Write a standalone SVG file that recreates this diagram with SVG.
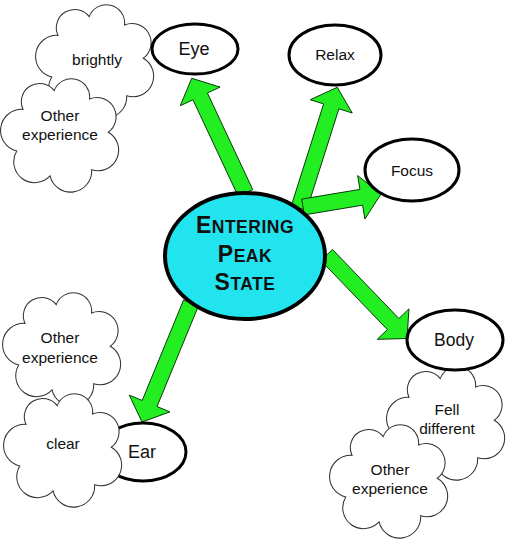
<svg xmlns="http://www.w3.org/2000/svg" xmlns:xlink="http://www.w3.org/1999/xlink" width="506" height="542" viewBox="0 0 506 542">
<style>
.cloud{fill:#fff;stroke:#333;stroke-width:1}
.node{fill:#fff;stroke:#000;stroke-width:3}
.arrow{fill:#22ee22;stroke:#0a3a0a;stroke-width:1;stroke-linejoin:miter}
.t{font-family:"Liberation Sans",Arial,sans-serif;fill:#111;text-anchor:middle}
.ct{font-size:15.5px}
.big{font-weight:bold;letter-spacing:0.5px}
</style>
<defs>
<path id="cloud" d="M25,34 A17.6,17.6 0 0 1 55,16 A17.6,17.6 0 0 1 89,24 A18.5,18.5 0 0 1 107,56 A19.8,19.8 0 0 1 91,92 A20.3,20.3 0 0 1 51,98 A20.1,20.1 0 0 1 19,74 A20.3,20.3 0 0 1 25,34 Z"/>
</defs>
<rect width="506" height="542" fill="#fff"/>
<g id="connectors">
<polygon class="arrow" points="252.74,189.6 207.43,93.01 220.11,87.07 191.7,78.3 180.27,105.75 192.95,99.81 238.26,196.4"/>
<polygon class="arrow" points="306.63,210.42 338.88,108.79 352.22,113.03 337.3,87.3 310.28,99.71 323.62,103.95 291.37,205.58"/>
<polygon class="arrow" points="304.32,214.89 362.59,205.18 364.89,218.99 381,194 357.65,175.59 359.95,189.4 301.68,199.11"/>
<polygon class="arrow" points="320.93,260.54 387.37,329.62 377.28,339.33 407,338.5 409,308.83 398.91,318.54 332.47,249.46"/>
<polygon class="arrow" points="183.6,299.95 142.21,400.46 129.27,395.13 142,422 169.95,411.89 157.01,406.56 198.4,306.05"/>
</g>
<g id="center">
<ellipse cx="245" cy="256" rx="80" ry="63" fill="#22e4ef" stroke="#000" stroke-width="4"/>
<text class="t big" x="245" y="233"><tspan font-size="23">E</tspan><tspan font-size="17.5">NTERING</tspan></text>
<text class="t big" x="245" y="262"><tspan font-size="23">P</tspan><tspan font-size="17.5">EAK</tspan></text>
<text class="t big" x="245" y="290"><tspan font-size="23">S</tspan><tspan font-size="17.5">TATE</tspan></text>
</g>
<g id="cloud-brightly">
<use xlink:href="#cloud" class="cloud" transform="translate(32,0) scale(1.04)"/>
<text class="t ct" x="97" y="65">brightly</text>
</g>
<g id="cloud-other1">
<use xlink:href="#cloud" class="cloud" transform="translate(-3,74) scale(1.04)"/>
<text class="t ct" x="60" y="121">Other</text>
<text class="t ct" x="60" y="140">experience</text>
</g>
<g id="eye">
<ellipse class="node" cx="195" cy="49" rx="43" ry="25"/>
<text class="t" x="194" y="55" font-size="18">Eye</text>
</g>
<g id="relax">
<ellipse class="node" cx="335" cy="55" rx="46" ry="30"/>
<text class="t" x="335" y="60" font-size="15.5">Relax</text>
</g>
<g id="focus">
<ellipse class="node" cx="412" cy="170" rx="47" ry="31"/>
<text class="t" x="412" y="176" font-size="15.5">Focus</text>
</g>
<g id="cloud-fell">
<use xlink:href="#cloud" class="cloud" transform="translate(383,362) scale(1.04)"/>
<text class="t ct" x="447" y="415">Fell</text>
<text class="t ct" x="447" y="434">different</text>
</g>
<g id="body">
<ellipse class="node" cx="455" cy="340" rx="48" ry="30"/>
<text class="t" x="454" y="346" font-size="17.5">Body</text>
</g>
<g id="cloud-other3">
<use xlink:href="#cloud" class="cloud" transform="translate(326,420) scale(1.04)"/>
<text class="t ct" x="390" y="475">Other</text>
<text class="t ct" x="390" y="494">experience</text>
</g>
<g id="cloud-other2">
<use xlink:href="#cloud" class="cloud" transform="translate(-1,288) scale(1.04)"/>
<text class="t ct" x="60" y="343">Other</text>
<text class="t ct" x="60" y="363">experience</text>
</g>
<g id="ear">
<ellipse class="node" cx="143" cy="452" rx="43" ry="29"/>
<text class="t" x="142" y="458" font-size="18">Ear</text>
</g>
<g id="cloud-clear">
<use xlink:href="#cloud" class="cloud" transform="translate(0,389) scale(1.04)"/>
<text class="t ct" x="63" y="449">clear</text>
</g>
</svg>
